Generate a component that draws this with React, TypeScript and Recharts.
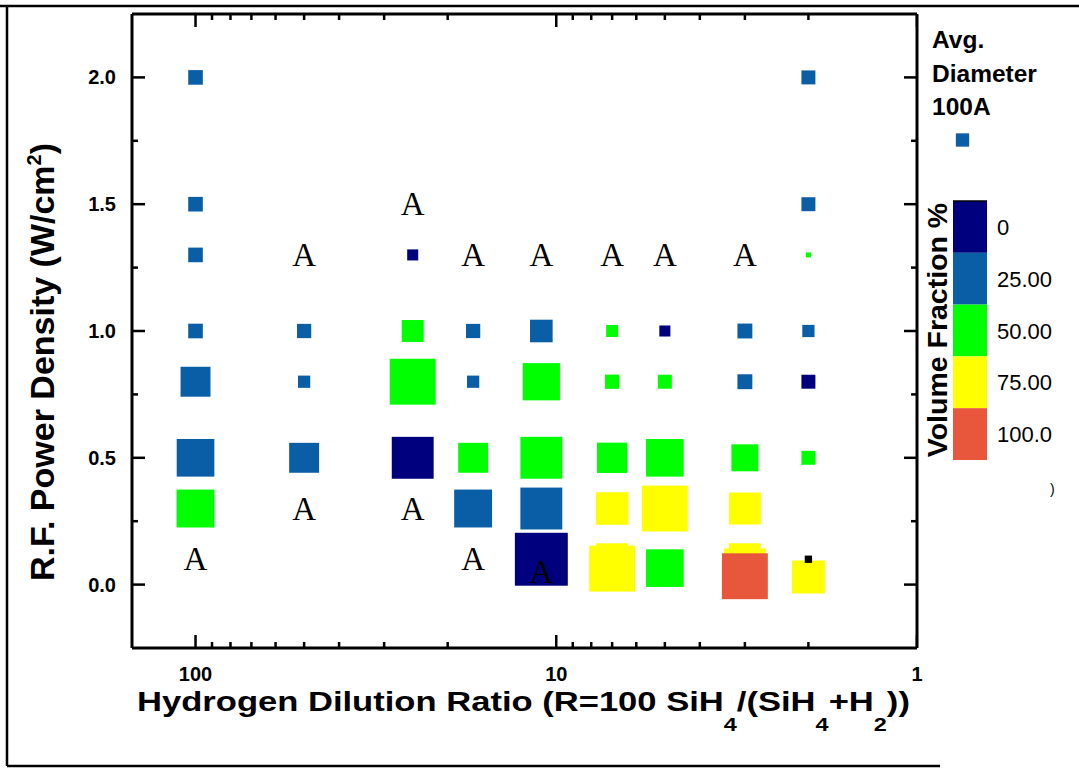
import React from 'react';
import { ScatterChart, Scatter, XAxis, YAxis, CartesianGrid } from 'recharts';

// each point: [R (dilution ratio), RF power (W/cm2), avg. diameter (A)]
type Raw = [number, number, number];

const fraction0: Raw[] = [
  [25, 1.3, 83],
  [25, 0.5, 315],
  [11, 0.1, 398],
  [5, 1.0, 83],
  [2, 0.8, 105],
];

const fraction25: Raw[] = [
  [100, 2.0, 110],
  [100, 1.5, 110],
  [100, 1.3, 110],
  [100, 1.0, 110],
  [100, 0.8, 225],
  [100, 0.5, 283],
  [50, 1.0, 107],
  [50, 0.8, 92],
  [50, 0.5, 225],
  [17, 1.0, 107],
  [17, 0.8, 92],
  [17, 0.3, 285],
  [11, 1.0, 170],
  [11, 0.3, 315],
  [3, 1.0, 112],
  [3, 0.8, 112],
  [2, 2.0, 105],
  [2, 1.5, 105],
  [2, 1.0, 92],
];

const fraction50: Raw[] = [
  [100, 0.3, 285],
  [25, 1.0, 165],
  [25, 0.8, 345],
  [17, 0.5, 225],
  [11, 0.8, 280],
  [11, 0.5, 315],
  [7, 1.0, 90],
  [7, 0.8, 107],
  [7, 0.5, 228],
  [5, 0.8, 105],
  [5, 0.5, 283],
  [5, 0.065, 283],
  [3, 0.5, 203],
  [2, 1.3, 38],
  [2, 0.5, 105],
];

const fraction75: Raw[] = [
  [7, 0.3, 245],
  [7, 0.1, 240],
  [7, 0.063, 345],
  [5, 0.3, 345],
  [3, 0.3, 240],
  [3, 0.1, 240],
  [3, 0.06, 315],
  [2, 0.03, 248],
];

const fraction100: Raw[] = [[3, 0.033, 345]];

const unresolved: Raw[] = [[2, 0.1, 55]];

// amorphous samples: [R, RF power]
const amorphous: [number, number][] = [
  [100, 0.1],
  [50, 1.3],
  [50, 0.3],
  [25, 1.5],
  [25, 0.3],
  [17, 1.3],
  [17, 0.1],
  [11, 1.3],
  [11, 0.05],
  [7, 1.3],
  [5, 1.3],
  [3, 1.3],
];

const xDomain = [1, 150];
const yDomain = [-0.25, 2.25];
const xTicks = [1, 2, 3, 4, 5, 6, 7, 8, 9, 10, 20, 30, 40, 50, 60, 70, 80, 90, 100];
const xLabels = [1, 10, 100];
const yTicks = [0, 0.25, 0.5, 0.75, 1, 1.25, 1.5, 1.75, 2];
const yLabels = [0, 0.5, 1, 1.5, 2];
const gridX = [10, 100];
const gridY = [0, 0.5, 1, 1.5, 2];

const scaleValues = [0, 25, 50, 75, 100];
const scaleLabels = ['0', '25.00', '50.00', '75.00', '100.0'];
const scaleColors = ['#00007f', '#0a5ea6', '#00ff00', '#ffff00', '#e8573c'];
const legendDiameter = 100;

const FONT = '"Liberation Sans", Arial, Helvetica, sans-serif';
const SERIF = '"Liberation Serif", "Times New Roman", serif';
const PX_PER_A = 0.133;

const toPts = (rows: Raw[]) => rows.map(([r, p, d]) => ({ r, p, d }));
const colorOf = (v: number) => scaleColors[scaleValues.indexOf(v)];

// inward tick marks, placed through the chart scales on the plot frame
const bottomMarks = xTicks.map((r) => ({ r, p: yDomain[0], major: xLabels.includes(r), side: 'b' }));
const topMarks = xTicks.map((r) => ({ r, p: yDomain[1], major: xLabels.includes(r), side: 't' }));
const leftMarks = yTicks.map((p) => ({ r: xDomain[1], p, major: yLabels.includes(p), side: 'l' }));
const rightMarks = yTicks.map((p) => ({ r: xDomain[0], p, major: yLabels.includes(p), side: 'r' }));
const tickMarks = [...bottomMarks, ...topMarks, ...leftMarks, ...rightMarks];

const square = (fill: string) => (props: any) => {
  const { cx, cy, payload } = props;
  const s = payload.d * PX_PER_A;
  return <rect x={cx - s / 2} y={cy - s / 2} width={s} height={s} fill={fill} />;
};

const letterA = (props: any) => {
  const { cx, cy } = props;
  return (
    <text x={cx} y={cy + 11} textAnchor="middle" fontFamily={SERIF} fontSize={33} fill="#000">
      A
    </text>
  );
};

const tickMark = (props: any) => {
  const { cx, cy, payload } = props;
  const len = payload.major ? 13 : 6;
  const d: Record<string, [number, number]> = { b: [0, -len], t: [0, len], l: [len, 0], r: [-len, 0] };
  const [dx, dy] = d[payload.side];
  return <line x1={cx} y1={cy} x2={cx + dx} y2={cy + dy} stroke="#000" strokeWidth={2.5} />;
};

const BottomLabel = (props: any) => {
  const { x, y, payload } = props;
  if (!xLabels.includes(payload.value)) return <g />;
  return (
    <text x={x} y={y + 33} textAnchor="middle" fontFamily={FONT} fontWeight="bold" fontSize={20} fill="#000">
      {payload.value}
    </text>
  );
};

const LeftLabel = (props: any) => {
  const { x, y, payload } = props;
  if (!yLabels.includes(payload.value)) return <g />;
  return (
    <text x={x - 16} y={y + 7} textAnchor="end" fontFamily={FONT} fontWeight="bold" fontSize={20} fill="#000">
      {payload.value.toFixed(1)}
    </text>
  );
};

const axisLine = { stroke: '#000', strokeWidth: 3 };

function Overlay() {
  const sw = legendDiameter * PX_PER_A;
  const barTop = 201;
  const segH = 51.8;
  return (
    <svg width={1079} height={770} style={{ position: 'absolute', left: 0, top: 0, pointerEvents: 'none' }}>
      {/* outer frame */}
      <line x1={0} x2={1079} y1={6} y2={6} stroke="#000" strokeWidth={2.5} />
      <line x1={7} x2={7} y1={6} y2={766} stroke="#000" strokeWidth={2.5} />
      <line x1={7} x2={940} y1={766} y2={766} stroke="#000" strokeWidth={2.5} />

      <text
        transform="translate(54,362) rotate(-90)"
        textAnchor="middle"
        fontFamily={FONT}
        fontWeight="bold"
        fontSize={34}
        fill="#000"
      >
        R.F. Power Density (W/cm
        <tspan dy={-13} fontSize={20}>2</tspan>
        <tspan dy={13}>)</tspan>
      </text>

      <text transform="translate(137,711) scale(1.235,1)" fontFamily={FONT} fontWeight="bold" fontSize={28} fill="#000">
        Hydrogen Dilution Ratio (R=100 SiH
        <tspan dy={20} fontSize={19}>4</tspan>
        <tspan dy={-20}>/(SiH</tspan>
        <tspan dy={20} fontSize={19}>4</tspan>
        <tspan dy={-20}>+H</tspan>
        <tspan dy={20} fontSize={19}>2</tspan>
        <tspan dy={-20}>))</tspan>
      </text>

      {/* size legend */}
      <g fontFamily={FONT} fontWeight="bold" fontSize={24.5} fill="#000">
        <text x={932} y={48}>Avg.</text>
        <text x={932} y={82}>Diameter</text>
        <text x={932} y={115}>100A</text>
      </g>
      <rect x={962.5 - sw / 2} y={140 - sw / 2} width={sw} height={sw} fill={colorOf(25)} />

      {/* colour scale */}
      {scaleColors.map((c, i) => (
        <rect key={c} x={953} y={barTop + i * segH} width={34} height={segH} fill={c} />
      ))}
      <line x1={953} x2={987} y1={barTop} y2={barTop} stroke="#000" strokeWidth={1.5} />
      {scaleLabels.map((t, i) => (
        <text key={t} x={997} y={barTop + (i + 0.5) * segH + 8} fontFamily={FONT} fontSize={22} fill="#000">
          {t}
        </text>
      ))}
      <text
        transform="translate(947,330) rotate(-90)"
        textAnchor="middle"
        fontFamily={FONT}
        fontWeight="bold"
        fontSize={28.5}
        fill="#000"
      >
        Volume Fraction %
      </text>
      <text x={1050} y={494} fontFamily={FONT} fontSize={14} fill="#000">
        )
      </text>
    </svg>
  );
}

export default function App() {
  return (
    <div style={{ position: 'absolute', left: 0, top: 0, width: 1079, height: 770, background: '#fff' }}>
      <ScatterChart width={1079} height={770} margin={{ top: 13, right: 161, bottom: 121, left: 131 }}>
        <CartesianGrid
          xAxisId="b"
          yAxisId="l"
          stroke="#8a8a8a"
          strokeWidth={1}
          verticalCoordinatesGenerator={({ xAxis }: any) =>
            xAxis && typeof xAxis.scale === 'function' ? gridX.map((v) => xAxis.scale(v)) : []
          }
          horizontalCoordinatesGenerator={({ yAxis }: any) =>
            yAxis && typeof yAxis.scale === 'function' ? gridY.map((v) => yAxis.scale(v)) : []
          }
        />
        <XAxis
          xAxisId="b"
          dataKey="r"
          type="number"
          scale="log"
          domain={xDomain}
          reversed
          allowDataOverflow
          ticks={xTicks}
          interval={0}
          height={1}
          tickSize={0}
          tickMargin={0}
          tick={<BottomLabel />}
          axisLine={axisLine}
          tickLine={false}
        />
        <XAxis
          xAxisId="t"
          orientation="top"
          dataKey="r"
          type="number"
          scale="log"
          domain={xDomain}
          reversed
          allowDataOverflow
          ticks={xTicks}
          height={1}
          tick={false}
          axisLine={axisLine}
          tickLine={false}
        />
        <YAxis
          yAxisId="l"
          dataKey="p"
          type="number"
          domain={yDomain}
          allowDataOverflow
          ticks={yTicks}
          interval={0}
          width={1}
          tickSize={0}
          tickMargin={0}
          tick={<LeftLabel />}
          axisLine={axisLine}
          tickLine={false}
        />
        <YAxis
          yAxisId="r"
          orientation="right"
          dataKey="p"
          type="number"
          domain={yDomain}
          allowDataOverflow
          ticks={yTicks}
          width={1}
          tick={false}
          axisLine={axisLine}
          tickLine={false}
        />
        <Scatter xAxisId="b" yAxisId="l" data={tickMarks} shape={tickMark} isAnimationActive={false} />
        <Scatter xAxisId="b" yAxisId="l" data={toPts(fraction0)} shape={square(colorOf(0))} isAnimationActive={false} />
        <Scatter xAxisId="b" yAxisId="l" data={toPts(fraction25)} shape={square(colorOf(25))} isAnimationActive={false} />
        <Scatter xAxisId="b" yAxisId="l" data={toPts(fraction50)} shape={square(colorOf(50))} isAnimationActive={false} />
        <Scatter xAxisId="b" yAxisId="l" data={toPts(fraction75)} shape={square(colorOf(75))} isAnimationActive={false} />
        <Scatter xAxisId="b" yAxisId="l" data={toPts(fraction100)} shape={square(colorOf(100))} isAnimationActive={false} />
        <Scatter xAxisId="b" yAxisId="l" data={toPts(unresolved)} shape={square('#000')} isAnimationActive={false} />
        <Scatter
          xAxisId="b"
          yAxisId="l"
          data={amorphous.map(([r, p]) => ({ r, p }))}
          shape={letterA}
          isAnimationActive={false}
        />
      </ScatterChart>
      <Overlay />
    </div>
  );
}
